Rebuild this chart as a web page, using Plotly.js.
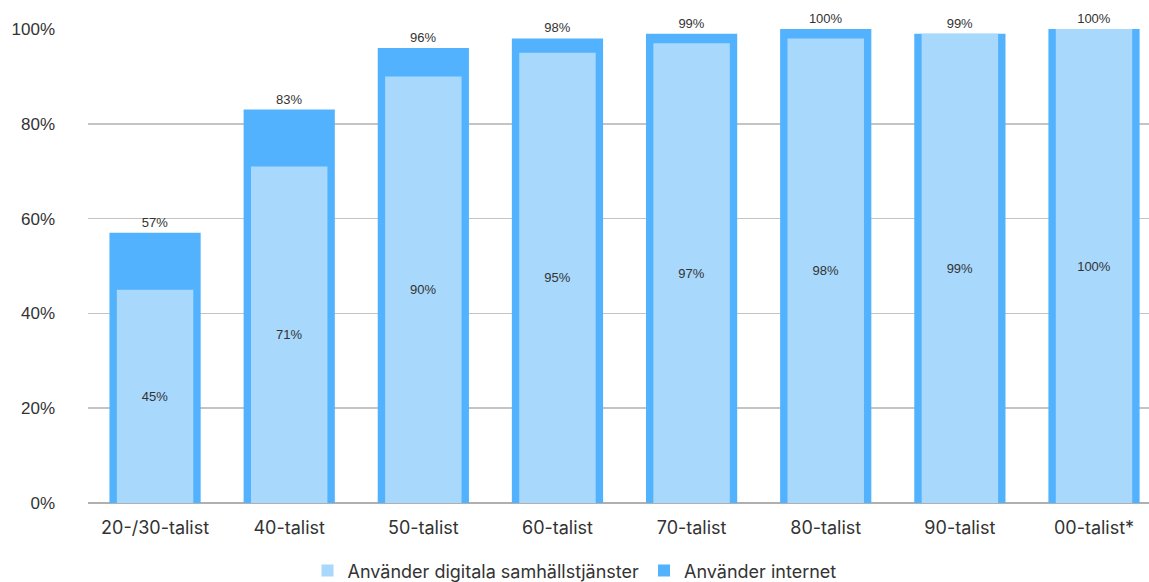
<!DOCTYPE html>
<html>
<head>
<meta charset="utf-8">
<script src="https://cdn.plot.ly/plotly-3.0.1.min.js"></script>
<style>html,body{margin:0;padding:0;background:#fff;}#chart{width:1149px;height:582px;}</style>
</head>
<body>
<div id="chart"></div>
<script>
const categories = ["20-/30-talist", "40-talist", "50-talist", "60-talist", "70-talist", "80-talist", "90-talist", "00-talist*"];
const internetValues = [57, 83, 96, 98, 99, 100, 99, 100];
const digitalValues = [45, 71, 90, 95, 97, 98, 99, 100];
const seriesNames = ["Använder internet", "Använder digitala samhällstjänster"];
const yTickVals = [0, 20, 40, 60, 80, 100];
const yTickText = ["0%", "20%", "40%", "60%", "80%", "100%"];

const darkBlue = "#52b2fd";
const lightBlue = "#a8d8fc";
const textColor = "#333333";

const traces = [
  {
    type: "bar",
    name: seriesNames[0],
    x: categories,
    y: internetValues,
    width: 0.68,
    marker: {color: darkBlue},
    text: internetValues.map(v => v + "%"),
    textposition: "outside",
    outsidetextfont: {family: "Liberation Sans, Arial, sans-serif", size: 13, color: textColor},
    cliponaxis: false,
    hoverinfo: "none"
  },
  {
    type: "bar",
    name: seriesNames[1],
    x: categories,
    y: digitalValues,
    width: 0.57,
    marker: {color: lightBlue},
    text: digitalValues.map(v => v + "%"),
    textposition: "inside",
    insidetextanchor: "middle",
    insidetextfont: {family: "Liberation Sans, Arial, sans-serif", size: 13, color: textColor},
    cliponaxis: false,
    hoverinfo: "none"
  }
];

const layout = {
  width: 1149,
  height: 582,
  margin: {l: 88, r: 0, t: 29, b: 79, autoexpand: false},
  paper_bgcolor: "#ffffff",
  plot_bgcolor: "#ffffff",
  barmode: "overlay",
  showlegend: true,
  legend: {
    orientation: "h",
    x: 0.5, xref: "container", xanchor: "center",
    y: -0.104, yref: "paper", yanchor: "top",
    traceorder: "reversed",
    font: {family: "Inter, sans-serif", size: 18, color: textColor},
    itemwidth: 30
  },
  xaxis: {
    type: "category",
    range: [-0.5, 7.41],
    tickfont: {family: "Inter, sans-serif", size: 18, color: textColor},
    showgrid: false,
    showline: false,
    ticks: "",
    zeroline: false,
    ticklabelstandoff: 12
  },
  yaxis: {
    range: [0, 100],
    tickvals: yTickVals,
    ticktext: yTickText,
    tickfont: {family: "Liberation Sans, Arial, sans-serif", size: 17, color: textColor},
    showgrid: true,
    gridcolor: "#c4c4c4",
    gridwidth: 1.5,
    zeroline: true,
    zerolinecolor: "#b0b0b0",
    zerolinewidth: 2,
    ticks: "",
    ticklabelstandoff: 32,
    fixedrange: true
  }
};

Plotly.newPlot("chart", traces, layout, {displayModeBar: false, staticPlot: true});
</script>
</body>
</html>
